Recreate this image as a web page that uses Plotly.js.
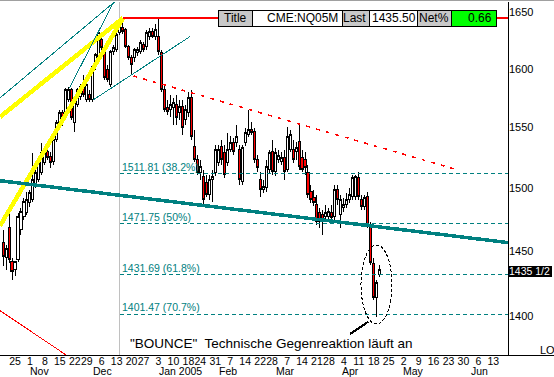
<!DOCTYPE html>
<html><head><meta charset="utf-8">
<script src="https://cdn.plot.ly/plotly-3.0.1.min.js"></script>
<style>html,body{margin:0;padding:0;background:#fff}#chart{width:554px;height:377px}
#chart .boxlayer path, #chart .scatterlayer path, #chart .shapelayer path{shape-rendering:crispEdges}</style>
</head><body><div id="chart"></div>
<script>
// ---- Data: daily OHLC, CME NQ05M (Nasdaq-100 June 2005 future), 19 Oct 2004 .. 20 Apr 2005
const firstBar = '2004-10-19';
const openP = [1456.7,1445.0,1468.5,1441.8,1435.6,1443.4,1466.9,1477.2,1480.4,1488.4,
1490.8,1503.0,1507.0,1512.7,1520.8,1529.9,1525.7,1521.7,1539.8,1550.6,
1562.4,1562.4,1573.4,1581.9,1554.0,1569.2,1575.9,1586.1,1573.4,1577.6,
1573.4,1601.6,1610.3,1625.1,1618.1,1599.0,1586.1,1614.7,1616.4,1631.2,
1635.7,1633.9,1619.0,1609.4,1609.4,1613.8,1614.7,1620.7,1619.0,1627.7,
1632.1,1627.7,1627.7,1613.8,1581.9,1566.6,1564.9,1566.6,1569.2,1562.4,
1567.5,1556.5,1562.4,1575.1,1534.0,1523.3,1512.7,1509.4,1504.6,1494.9,
1507.0,1512.7,1520.8,1534.0,1529.0,1520.8,1531.5,1537.3,1537.3,1531.5,
1505.4,1537.3,1544.0,1548.1,1546.4,1523.3,1507.0,1498.9,1500.5,1515.1,
1529.9,1513.5,1523.3,1521.7,1524.9,1515.1,1531.5,1531.5,1529.9,1538.1,
1524.9,1523.3,1512.7,1497.3,1492.4,1486.8,1480.4,1478.8,1477.2,1477.2,
1480.4,1477.2,1498.9,1478.8,1484.4,1486.8,1490.8,1493.2,1493.2,1508.6,
1490.8,1485.2,1493.2,1469.3,1440.3,1414.1,1431.8];
const highP = [1466.9,1455.1,1481.2,1444.9,1441.8,1480.4,1484.4,1492.4,1497.3,1498.9,
1529.0,1515.1,1523.3,1537.3,1531.5,1533.2,1529.9,1541.5,1556.5,1564.9,
1564.9,1583.6,1584.5,1583.6,1573.4,1583.6,1587.0,1594.7,1594.7,1581.9,
1603.4,1613.8,1632.1,1629.5,1620.7,1603.4,1616.4,1620.7,1641.0,1641.0,
1644.3,1635.7,1620.7,1612.1,1618.1,1619.0,1625.1,1623.4,1633.9,1635.7,
1635.7,1639.2,1644.3,1616.4,1586.1,1573.4,1577.6,1575.1,1577.6,1573.4,
1573.4,1569.2,1580.2,1581.9,1548.1,1527.4,1523.3,1515.1,1511.0,1511.0,
1515.1,1535.7,1535.7,1539.8,1535.7,1545.6,1543.1,1541.5,1552.3,1535.7,
1535.7,1549.8,1564.9,1554.8,1549.8,1527.4,1513.5,1507.0,1523.3,1531.5,
1539.8,1533.2,1531.5,1529.9,1531.5,1550.6,1548.1,1539.8,1538.1,1552.3,
1531.5,1529.9,1519.2,1503.0,1498.9,1494.9,1484.4,1482.8,1486.8,1484.4,
1486.8,1503.0,1503.0,1494.9,1492.4,1496.5,1500.5,1511.0,1511.0,1513.5,
1494.9,1494.9,1497.3,1473.2,1444.9,1427.9,1439.5];
const lowP = [1438.7,1435.6,1441.1,1427.9,1431.0,1441.8,1463.0,1474.8,1478.8,1485.2,
1489.2,1500.5,1505.4,1511.0,1519.2,1523.3,1516.7,1519.2,1538.1,1548.9,
1551.5,1560.7,1571.7,1556.5,1546.4,1567.5,1573.4,1575.9,1571.7,1571.7,
1571.7,1599.0,1607.7,1614.7,1590.4,1588.7,1584.5,1612.1,1614.7,1629.5,
1630.4,1618.1,1607.7,1594.7,1606.0,1611.2,1612.9,1614.7,1616.4,1625.1,
1626.9,1625.1,1612.1,1580.2,1563.2,1560.7,1559.0,1552.3,1552.3,1556.5,
1544.0,1552.3,1559.0,1539.8,1521.7,1511.0,1507.0,1485.2,1493.2,1490.8,
1489.2,1510.2,1518.4,1519.2,1508.6,1518.4,1529.9,1527.4,1534.0,1503.0,
1503.0,1534.8,1542.3,1544.0,1520.8,1513.5,1493.2,1496.5,1497.3,1512.7,
1511.0,1510.2,1520.8,1519.2,1507.0,1513.5,1529.9,1520.8,1523.3,1515.1,
1513.5,1511.0,1492.4,1488.4,1486.0,1470.9,1468.5,1463.0,1473.2,1474.8,
1473.2,1474.8,1486.8,1468.5,1481.2,1484.4,1488.4,1490.8,1490.8,1490.8,
1482.8,1482.8,1468.5,1439.5,1412.6,1399.7,1430.2];
const closeP = [1445.7,1452.0,1443.4,1434.1,1441.8,1477.2,1481.2,1489.2,1490.8,1496.5,
1507.0,1512.7,1520.8,1529.0,1529.9,1524.9,1520.8,1539.8,1554.0,1562.4,
1554.8,1581.9,1581.9,1558.2,1570.9,1581.9,1584.5,1577.6,1586.1,1573.4,
1601.6,1612.1,1631.3,1618.1,1592.1,1590.4,1614.7,1618.1,1629.5,1636.6,
1632.1,1619.0,1609.4,1603.4,1616.4,1616.4,1622.5,1616.4,1631.3,1632.1,
1627.7,1633.9,1614.7,1581.9,1564.9,1563.2,1569.2,1570.9,1558.2,1567.5,
1549.8,1564.9,1575.1,1542.3,1523.3,1512.7,1517.6,1490.8,1494.9,1507.0,
1509.4,1531.5,1531.5,1523.3,1511.0,1531.5,1537.3,1529.9,1542.3,1507.0,
1533.2,1545.6,1548.1,1545.6,1523.3,1516.7,1498.9,1501.3,1517.6,1529.0,
1513.5,1529.0,1526.6,1524.9,1513.5,1542.3,1544.0,1523.3,1533.2,1517.6,
1515.1,1516.7,1494.9,1490.8,1488.4,1473.2,1473.2,1473.2,1480.4,1481.2,
1476.4,1498.9,1490.8,1490.8,1486.8,1490.8,1494.9,1508.6,1509.4,1493.2,
1485.2,1492.4,1469.3,1441.1,1414.1,1425.6,1435.5];

// Fibonacci retracement (high 1641.5 / low 1302)
const fibLevels = [1511.81, 1471.75, 1431.69, 1401.47];
const fibPct = ['38.2%', '50%', '61.8%', '70.7%'];
const peakHigh = 1644.3;
const lastPrice = 1435.50, lastLabel = '1435 1/2', netPct = '0.66', symbol = 'CME:NQ05M';
const yTicks = [1400, 1450, 1500, 1550, 1600, 1650];
const monthLabels = ['Nov', 'Dec', 'Jan 2005', 'Feb', 'Mar', 'Apr', 'May', 'Jun'];
const holidays = ['2004-11-25', '2004-12-24', '2005-01-17', '2005-02-21', '2005-03-25'];
// hand-drawn trend lines: [tradingDayIndex, price]
const yellowSteep = [[0, 1470.1], [41.1, 1644.3]];
const yellowFlat = [[0, 1559.0], [41.1, 1644.3]];
const tealA = [[0, 1575.1], [39.1, 1660.6]];
const tealB = [[23.2, 1583.6], [38.4, 1660.6]];
const tealC = [[31.2, 1573.4], [63.5, 1628.0]];
const tealThick = [[0, 1506.2], [170, 1456.7]];
const redDash = [[44.6, 1593.8], [153.8, 1514.5]];
const redLow = [[0, 1404.2], [27.1, 1363.6]];

// ---- trading-day calendar
function buildCalendar(n) {
  const out = []; let t = Date.UTC(2004, 9, 18);
  while (out.length < n) {
    const d = new Date(t); const dow = d.getUTCDay(); const s = d.toISOString().slice(0, 10);
    if (dow !== 0 && dow !== 6 && !holidays.includes(s)) out.push(s);
    t += 86400000;
  }
  return out;
}
const calendar = buildCalendar(175);
const startIdx = calendar.indexOf(firstBar);
const xs = openP.map((_, i) => startIdx + i);
const tickvals = [], ticktext = [];
for (let i = 1; i < calendar.length; i++) {
  const d = new Date(calendar[i] + 'T00:00:00Z'), p = new Date(calendar[i - 1] + 'T00:00:00Z');
  if (d.getUTCDay() < p.getUTCDay() && calendar[i] >= '2004-10-25' && i <= 166) {
    tickvals.push(i); ticktext.push(String(d.getUTCDate()));
  }
}

// ---- geometry helpers (layout only)
const PW = 508, PT = 2, PB = 355;
const px = v => v / PW, py = v => (PB - v) / (PB - PT);
const pxIdx = v => (v - 15) / 2.99 + 5;
const FONT = 'Liberation Sans, Arial, sans-serif';
const TEAL = '#008080';

function lineTrace(pts, color, width, dash) {
  return {type: 'scatter', mode: 'lines', x: pts.map(p => p[0]), y: pts.map(p => p[1]),
    line: {color: color, width: width, dash: dash || 'solid'}, hoverinfo: 'skip', showlegend: false};
}
const traces = [
  lineTrace(yellowSteep, '#ffff00', 4.5),
  lineTrace(yellowFlat, '#ffff00', 4.5),
  lineTrace(tealA, TEAL, 1),
  lineTrace(tealB, TEAL, 1),
  lineTrace(tealC, TEAL, 1),
  lineTrace(redLow, '#ff0000', 1),
  lineTrace(redDash, '#ff0000', 1.5, '4px,6px'),
  lineTrace([[41.1, peakHigh], [171, peakHigh]], '#ff0000', 1.5),
];
fibLevels.forEach(l => traces.push(lineTrace([[40, l], [171, l]], TEAL, 1, '4px,3px')));
traces.push(lineTrace(tealThick, TEAL, 3.5));
traces.push({
  type: 'candlestick', x: xs, open: openP, high: highP, low: lowP, close: closeP,
  increasing: {line: {color: '#000', width: 1}, fillcolor: '#ffffff'},
  decreasing: {line: {color: '#000', width: 1}, fillcolor: '#ff0000'},
  whiskerwidth: 0, hoverinfo: 'skip', showlegend: false
});

const shapes = [
  {type: 'line', xref: 'x', yref: 'paper', x0: 40, x1: 40, y0: 0, y1: 1, line: {color: '#c0c0c0', width: 1}, layer: 'below'},
  {type: 'line', xref: 'paper', yref: 'paper', x0: 0, x1: px(554), y0: 0, y1: 0, line: {color: '#000', width: 1}, layer: 'above'},
  {type: 'line', xref: 'paper', yref: 'paper', x0: 1, x1: 1, y0: 0, y1: 1, line: {color: '#000', width: 1}, layer: 'above'},
  {type: 'line', xref: 'paper', yref: 'paper', x0: 0, x1: px(554), y0: py(0.5), y1: py(0.5), line: {color: '#a0a0a0', width: 1}, layer: 'above'},
  // ellipse and pointer
  {type: 'circle', xref: 'paper', yref: 'paper', x0: px(361), x1: px(392), y0: py(324), y1: py(245), line: {color: '#000', width: 1, dash: '3px,2px'}, layer: 'above'},
  {type: 'line', xref: 'paper', yref: 'paper', x0: px(350), y0: py(334), x1: px(368.5), y1: py(321.5), line: {color: '#000', width: 2.2}, layer: 'above'},
  // last price box
  {type: 'rect', xref: 'paper', yref: 'paper', x0: 1, x1: px(552), y0: py(276.5), y1: py(265.5), fillcolor: '#000', line: {width: 0}, layer: 'above'},
];
// info table
const cells = [[218, 252, '#c8c8c8'], [252, 342, '#ffffff'], [342, 369, '#c8c8c8'], [369, 417, '#ffffff'], [417, 451, '#c8c8c8'], [451, 496, '#00ff00']];
cells.forEach(c => shapes.push({type: 'rect', xref: 'paper', yref: 'paper', x0: px(c[0]), x1: px(c[1]), y0: py(26.5), y1: py(10), fillcolor: c[2], line: {color: '#000', width: 1}, layer: 'above'}));

const ann = [];
const A = (text, x, y, xanchor, size, color, extra) => Object.assign({text: text, x: x, y: y, xref: 'paper', yref: 'paper', xanchor: xanchor, yanchor: 'middle', showarrow: false, font: {family: FONT, size: size, color: color || '#000'}, borderpad: 0}, extra || {});
ann.push(A('Title', px(235), py(18.5), 'center', 12));
ann.push(A(symbol, px(339), py(18.5), 'right', 12));
ann.push(A('Last', px(342), py(18.5), 'left', 12));
ann.push(A(lastPrice.toFixed(2), px(416.5), py(18.5), 'right', 12));
ann.push(A('Net%', px(418), py(18.5), 'left', 12));
ann.push(A(netPct, px(492.5), py(18.5), 'right', 12));
ann.push(A(lastLabel, px(508), py(271), 'left', 10.5, '#ffffff'));
ann.push(A('LO', px(539), py(350), 'left', 11));
ann.push(A('"BOUNCE"\u00a0 Technische Gegenreaktion läuft an', px(129), py(343), 'left', 13.5));
fibLevels.forEach((l, i) => ann.push({text: l.toFixed(2) + ' (' + fibPct[i] + ')', x: 40.3, y: Math.log10(l), xref: 'x', yref: 'y', xanchor: 'left', yanchor: 'bottom', showarrow: false, borderpad: 0, font: {family: FONT, size: 10.5, color: TEAL}}));
const monthPx = [39, 102, 181, 228, 286, 351, 414, 480];
monthLabels.forEach((m, i) => ann.push({text: m, x: pxIdx(monthPx[i]), y: py(371), xref: 'x', yref: 'paper', xanchor: 'center', yanchor: 'middle', showarrow: false, borderpad: 0, font: {family: FONT, size: 10.5, color: '#000'}}));

const layout = {
  width: 554, height: 377, margin: {l: 0, r: 46, t: PT, b: 377 - PB, pad: 0},
  paper_bgcolor: '#fff', plot_bgcolor: '#fff', showlegend: false, boxgap: 0.02,
  xaxis: {range: [-0.02, 169.9], showgrid: false, zeroline: false, showline: false, ticks: '',
    tickvals: tickvals, ticktext: ticktext, tickangle: 0, tickfont: {family: FONT, size: 10.5, color: '#000'},
    ticklabelstandoff: -2, rangeslider: {visible: false}, fixedrange: true},
  yaxis: {type: 'log', side: 'right', range: [Math.log10(1371.0), Math.log10(1658.7)], showgrid: false, zeroline: false,
    showline: false, ticks: '', tickvals: yTicks, ticktext: yTicks.map(String),
    tickfont: {family: FONT, size: 11, color: '#000'}, fixedrange: true},
  shapes: shapes, annotations: ann
};
Plotly.newPlot('chart', traces, layout, {displayModeBar: false, staticPlot: true});
</script></body></html>
